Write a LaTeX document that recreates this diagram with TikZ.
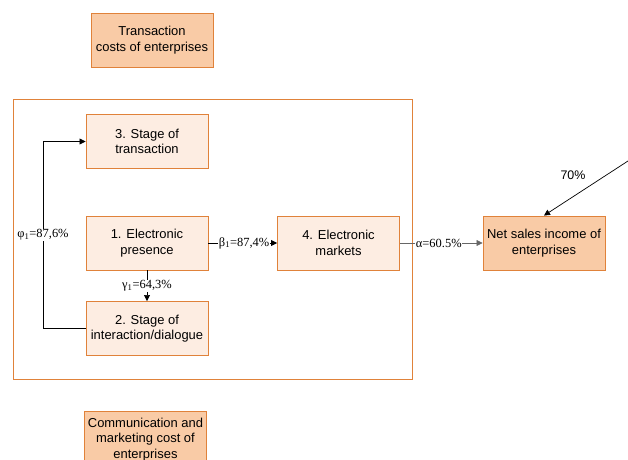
\documentclass[tikz,border=0pt]{standalone}
\usepackage{fontspec}
\setmainfont{Liberation Sans}
\newfontfamily\lblfont{Liberation Serif}
\usetikzlibrary{arrows.meta}
\definecolor{boxline}{HTML}{E0823A}
\definecolor{lightfill}{HTML}{FDEDE2}
\definecolor{darkfill}{HTML}{F9CBA6}
\tikzset{
  stagebox/.style={draw=boxline, line width=0.9bp, fill=lightfill, minimum width=122bp, minimum height=54bp, align=center, inner sep=0pt, font=\fontsize{13}{15.5}\selectfont},
  mainbox/.style={stagebox, fill=darkfill},
  conn/.style={draw=black, line width=0.7bp, -{Triangle[length=6bp,width=6bp]}},
  lbl/.style={fill=white, inner sep=0.5bp, font=\lblfont\fontsize{12.5}{14}\selectfont}
}
\begin{document}
\begin{tikzpicture}[x=1bp,y=-1bp]
\useasboundingbox (0,0) rectangle (628,460);
\draw[boxline, line width=0.9bp] (13,99) rectangle (412,379);
\node[mainbox] (tc) at (152,40) {Transaction\\costs of enterprises};
\node[stagebox] (s3) at (147,141.5) {3. Stage of\\transaction};
\node[stagebox] (s1) at (147,243) {1. Electronic\\presence};
\node[stagebox] (s2) at (147,328.5) {2. Stage of\\interaction/dialogue};
\node[stagebox] (s4) at (338.5,243) {4. Electronic\\markets};
\node[mainbox] (ns) at (544,243) {Net sales income of\\enterprises};
\node[mainbox, minimum height=56bp, anchor=north] (cm) at (145.5,411) {Communication and\\marketing cost of\\enterprises};
\coordinate (lb) at (43,328.5);
\coordinate (lt) at (43,141.5);
\coordinate (src) at (628,161);
\draw[conn] (s2.west) -- (lb) -- node[lbl, pos=0.5] {φ\textsubscript{1}=87,6\%} (lt) -- (s3.west);
\draw[conn] (s1.east) -- node[lbl, pos=0.52] {β\textsubscript{1}=87,4\%} (s4.west);
\draw[conn] (s1.south) -- node[lbl] {γ\textsubscript{1}=64,3\%} (s2.north);
\draw[conn, draw=black!60] (s4.east) -- node[lbl, pos=0.47] {α=60.5\%} (ns.west);
\draw[conn] (src) -- (ns.north);
\node[font=\fontsize{12.5}{14}\selectfont] (p70) at (573,175) {70\%};
\end{tikzpicture}
\end{document}
